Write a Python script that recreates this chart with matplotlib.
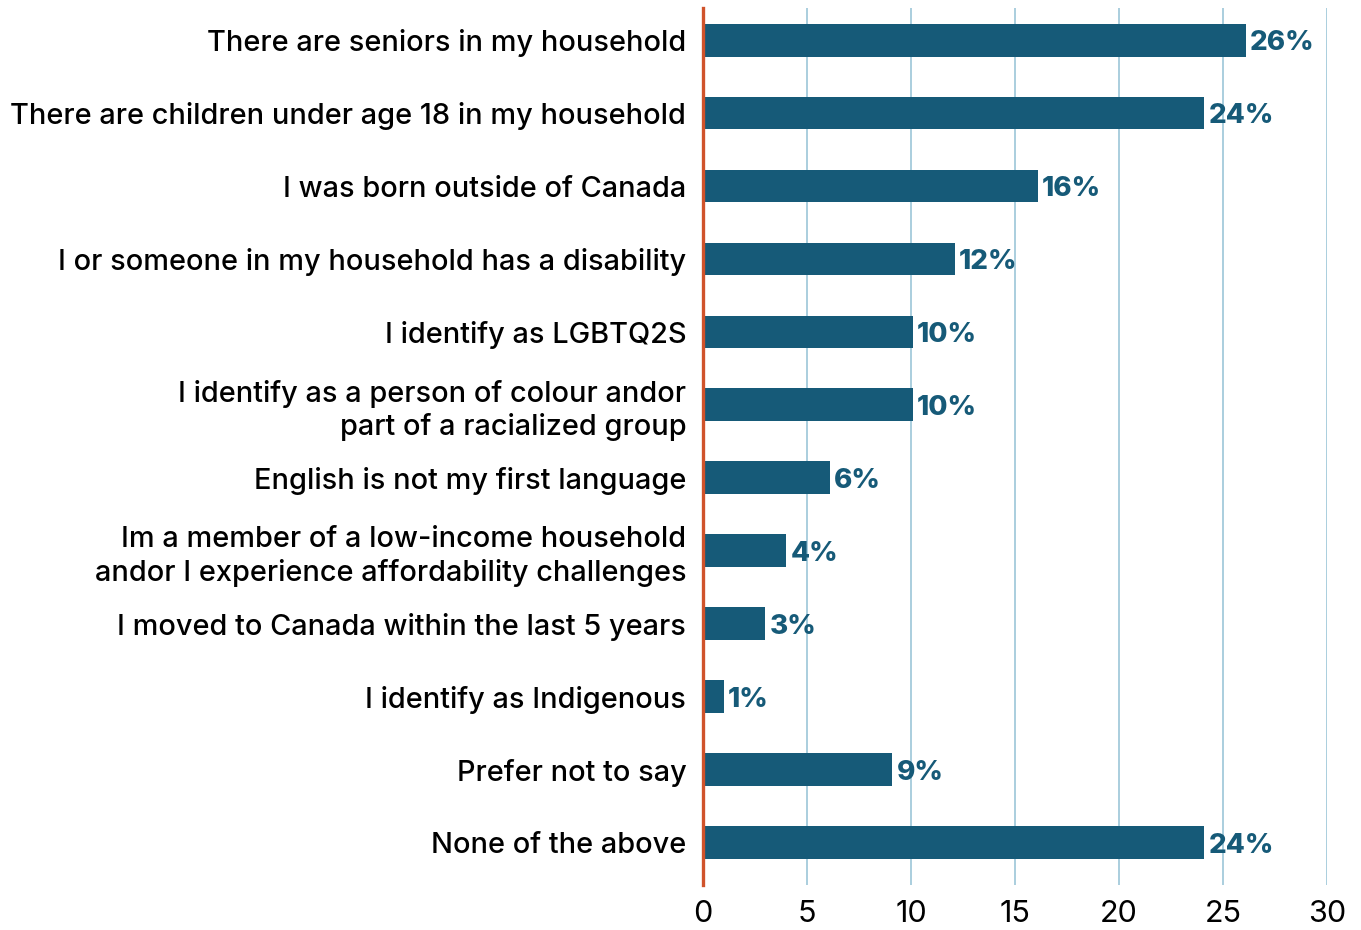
import matplotlib.pyplot as plt

plt.rcParams['font.family'] = ['Inter', 'DejaVu Sans']

categories = [
    "There are seniors in my household",
    "There are children under age 18 in my household",
    "I was born outside of Canada",
    "I or someone in my household has a disability",
    "I identify as LGBTQ2S",
    "I identify as a person of colour andor\npart of a racialized group",
    "English is not my first language",
    "Im a member of a low-income household\nandor I experience affordability challenges",
    "I moved to Canada within the last 5 years",
    "I identify as Indigenous",
    "Prefer not to say",
    "None of the above",
]
values = [26.1, 24.1, 16.1, 12.1, 10.1, 10.1, 6.1, 4.0, 3.0, 1.0, 9.1, 24.1]
xticks = [0, 5, 10, 15, 20, 25, 30]

bar_color = "#165a78"
grid_color = "#9cc6d8"
zero_color = "#d0532b"

fig = plt.figure(figsize=(13.61, 9.30), dpi=100)
ax = fig.add_axes([703 / 1361, 1 - 885 / 930, 624 / 1361, 877 / 930])

pos = list(range(len(categories)))
ax.barh(pos, values, height=0.45, color=bar_color, zorder=3)

for y, v in zip(pos, values):
    ax.text(v + 0.2, y, f"{v:.0f}%", va="center_baseline", ha="left",
            fontsize=20, fontweight="heavy", color=bar_color, zorder=4)

ax.set_xlim(0, 30)
ax.set_ylim(11.58, -0.44)
ax.set_xticks(xticks)
ax.set_xticklabels([str(t) for t in xticks], fontsize=22)
ax.set_yticks(pos)
ax.set_yticklabels(categories, fontsize=20.8, fontweight="medium", linespacing=1.25)
ax.tick_params(axis="both", length=0)
ax.tick_params(axis="y", pad=12)
ax.tick_params(axis="x", pad=11)

for t in xticks[1:]:
    ax.axvline(t, color=grid_color, lw=1.2, zorder=1)
ax.axvline(0, color=zero_color, lw=2.4, zorder=5, clip_on=False)

for s in ax.spines.values():
    s.set_visible(False)

fig.savefig("out.png", dpi=100)
